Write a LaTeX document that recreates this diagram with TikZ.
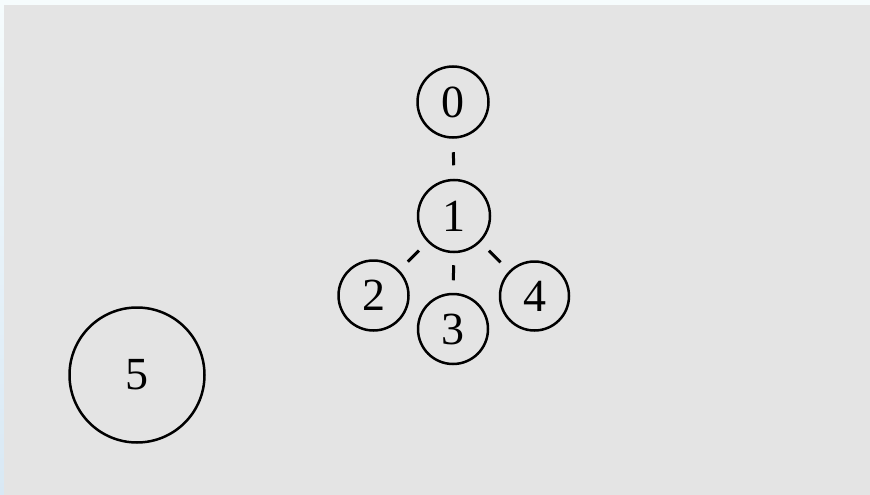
\documentclass[tikz,border=0pt]{standalone}
\usepackage{fontspec}
\setmainfont{Liberation Serif}
\definecolor{bggray}{HTML}{E4E4E4}
\definecolor{edgetop}{HTML}{F6FCFD}
\definecolor{edgebot}{HTML}{D8E8F4}
\begin{document}
\begin{tikzpicture}[x=1pt,y=-1pt,
  vtx/.style={circle,draw=black,line width=2.5pt,inner sep=0pt,font=\fontsize{46}{46}\selectfont},
  link/.style={line width=3pt,draw=black}]
\useasboundingbox (0,0) rectangle (870,495);
\shade[top color=edgetop,bottom color=edgebot] (0,0) rectangle (870,495);
\fill[edgetop] (0,0) rectangle (870,5);
\fill[bggray] (4,5) rectangle (870,495);
\node[vtx,minimum size=71pt] (n0) at (453,102) {0};
\node[vtx,minimum size=72pt] (n1) at (454,216) {1};
\node[vtx,minimum size=70pt] (n2) at (373.5,295.5) {2};
\node[vtx,minimum size=70pt] (n3) at (453,329) {3};
\node[vtx,minimum size=69pt] (n4) at (534.5,296) {4};
\node[vtx,minimum size=135pt] (n5) at (137,375) {5};
\draw[link,shorten <=13.5pt,shorten >=13.5pt] (n1) -- (n0);
\draw[link,shorten <=12pt,shorten >=12.5pt] (n1) -- (n3);
\draw[link,shorten <=12pt,shorten >=12pt] (n1) -- (n2);
\draw[link,shorten <=12pt,shorten >=12pt] (n1) -- (n4);
\end{tikzpicture}
\end{document}
